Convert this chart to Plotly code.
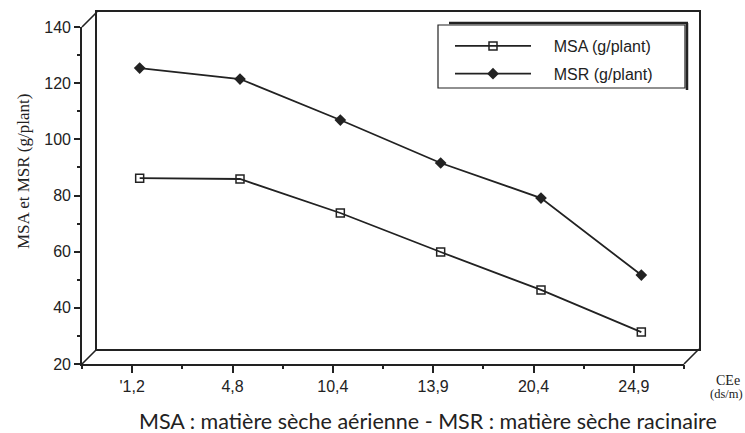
import plotly.graph_objects as go

categories = ["'1,2", "4,8", "10,4", "13,9", "20,4", "24,9"]
msa = [83.5, 83.2, 71.1, 57.2, 43.7, 28.7]
msr = [122.7, 118.8, 104.2, 88.9, 76.4, 49.0]
y_ticks = [20, 40, 60, 80, 100, 120, 140]

W, H = 745, 433
L, R, T, B = 82, 46, 12, 69
PW = W - L - R  # 617
PH = H - T - B  # 352
D = 15      # depth offset in px
DM = 7.5    # data plane offset in px

def px(x):
    return (x - L) / PW

def py(y):
    return (H - B - y) / PH

INK = "#222222"
NB = "\u00a0" * 4

fig = go.Figure()
fig.add_trace(go.Scatter(
    x=categories, y=msa, name=NB + "MSA (g/plant)", xaxis="x2", yaxis="y2",
    mode="lines+markers", line=dict(color=INK, width=1.8),
    marker=dict(symbol="square-open", size=8, color=INK, line=dict(width=1.5, color=INK)),
    legendgroup="a"))
fig.add_trace(go.Scatter(
    x=categories, y=msr, name=NB + "MSR (g/plant)", xaxis="x2", yaxis="y2",
    mode="lines+markers", line=dict(color=INK, width=1.8),
    marker=dict(symbol="diamond", size=9, color=INK),
    legendgroup="b"))
# invisible traces so that the frame axes render
fig.add_trace(go.Scatter(x=categories, y=msa, xaxis="x", yaxis="y", mode="none",
                         showlegend=False, hoverinfo="skip"))
fig.add_trace(go.Scatter(x=categories, y=msa, xaxis="x4", yaxis="y", mode="none",
                         showlegend=False, hoverinfo="skip"))
fig.add_trace(go.Scatter(x=[0.5], y=[0.5], xaxis="x3", yaxis="y3", mode="none",
                         showlegend=False, hoverinfo="skip"))

fw = (PW - D) / PW
fh = (PH - D) / PH
xr = [-0.5, 5.5]
yr = [20, 140]

fig.update_layout(
    template="none",
    width=W, height=H,
    margin=dict(l=L, r=R, t=T, b=B, autoexpand=False),
    paper_bgcolor="white", plot_bgcolor="rgba(0,0,0,0)",
    font=dict(family="Liberation Sans, Arial, sans-serif", size=16, color=INK),
    showlegend=True,
    xaxis=dict(domain=[0, fw], type="category", categoryorder="array", categoryarray=categories,
               range=xr, showline=True, linecolor=INK, linewidth=1.6, automargin=False,
               ticks="outside", ticklen=7, tickwidth=1.5, tickcolor=INK,
               showgrid=False, zeroline=False, tickfont=dict(size=16)),
    xaxis4=dict(domain=[0, fw], type="category", categoryorder="array", categoryarray=categories,
                range=xr, overlaying="x", anchor="y", showline=False, tickson="boundaries",
                ticks="outside", ticklen=4, tickwidth=1.5, tickcolor=INK, automargin=False,
                showticklabels=False, showgrid=False, zeroline=False),
    yaxis=dict(domain=[0, fh], range=yr, tickvals=y_ticks, showline=True, linecolor=INK,
               linewidth=1.6, ticks="outside", ticklen=6, tickwidth=1.5, tickcolor=INK,
               automargin=False,
               minor=dict(dtick=10, ticks="outside", ticklen=3, tickwidth=1.5, tickcolor=INK, showgrid=False),
               showgrid=False, zeroline=False, tickfont=dict(size=16)),
    xaxis3=dict(domain=[D / PW, 1], range=[0, 1], anchor="y3", showline=True, mirror=True,
                linecolor=INK, linewidth=1.6, showticklabels=False, ticks="", showgrid=False,
                zeroline=False, automargin=False),
    yaxis3=dict(domain=[D / PH, 1], range=[0, 1], anchor="x3", showline=True, mirror=True,
                linecolor=INK, linewidth=1.6, showticklabels=False, ticks="", showgrid=False,
                zeroline=False, automargin=False),
    xaxis2=dict(domain=[DM / PW, DM / PW + fw], type="category", categoryorder="array",
                categoryarray=categories, range=xr, anchor="y2",
                visible=False, automargin=False),
    yaxis2=dict(domain=[DM / PH, DM / PH + fh], range=yr, anchor="x2",
                visible=False, automargin=False),
    legend=dict(x=px(450), y=py(29), xanchor="left", yanchor="top",
                bgcolor="rgba(0,0,0,0)", borderwidth=0, itemwidth=76,
                traceorder="grouped", tracegroupgap=4, font=dict(size=16)),
)

shapes = []
line = dict(color=INK, width=1.6)
# depth diagonals
shapes.append(dict(type="line", xref="paper", yref="paper", x0=0, y0=0, x1=D / PW, y1=D / PH, line=line))
shapes.append(dict(type="line", xref="paper", yref="paper", x0=0, y0=fh, x1=D / PW, y1=1, line=line))
shapes.append(dict(type="line", xref="paper", yref="paper", x0=fw, y0=0, x1=1, y1=D / PH, line=line))
# legend box
shapes.append(dict(type="rect", xref="paper", yref="paper", x0=px(438), y0=py(88), x1=px(685), y1=py(25),
                   line=dict(color=INK, width=1.2), fillcolor="rgba(0,0,0,0)"))
shapes.append(dict(type="line", xref="paper", yref="paper", x0=px(449), y0=py(23), x1=px(688), y1=py(23),
                   line=dict(color=INK, width=2.5)))
shapes.append(dict(type="line", xref="paper", yref="paper", x0=px(687), y0=py(23), x1=px(687), y1=py(90),
                   line=dict(color=INK, width=2.5)))
fig.update_layout(shapes=shapes)

serif = "Liberation Serif, Times New Roman, serif"
annotations = [
    dict(text="MSA et MSR (g/plant)", x=px(23), y=py(172), xref="paper", yref="paper",
         textangle=-90, showarrow=False, xanchor="center", yanchor="middle",
         font=dict(family=serif, size=17, color=INK)),
    dict(text="CEe", x=px(714), y=py(380), xref="paper", yref="paper",
         showarrow=False, xanchor="left", yanchor="middle",
         font=dict(family=serif, size=14, color=INK)),
    dict(text="(ds/m)", x=px(745), y=py(394), xref="paper", yref="paper",
         showarrow=False, xanchor="right", yanchor="middle",
         font=dict(family=serif, size=12.5, color=INK)),
    dict(text="MSA : matière sèche aérienne - MSR : matière sèche racinaire", x=px(428), y=py(421),
         xref="paper", yref="paper", showarrow=False, xanchor="center", yanchor="middle",
         height=20, font=dict(family="Lato, sans-serif", size=21.5, color=INK)),
]
fig.update_layout(annotations=annotations)

fig.write_html("out.html", config={"displayModeBar": False},
               post_script="document.body.style.margin='0';document.body.style.overflow='hidden';")
